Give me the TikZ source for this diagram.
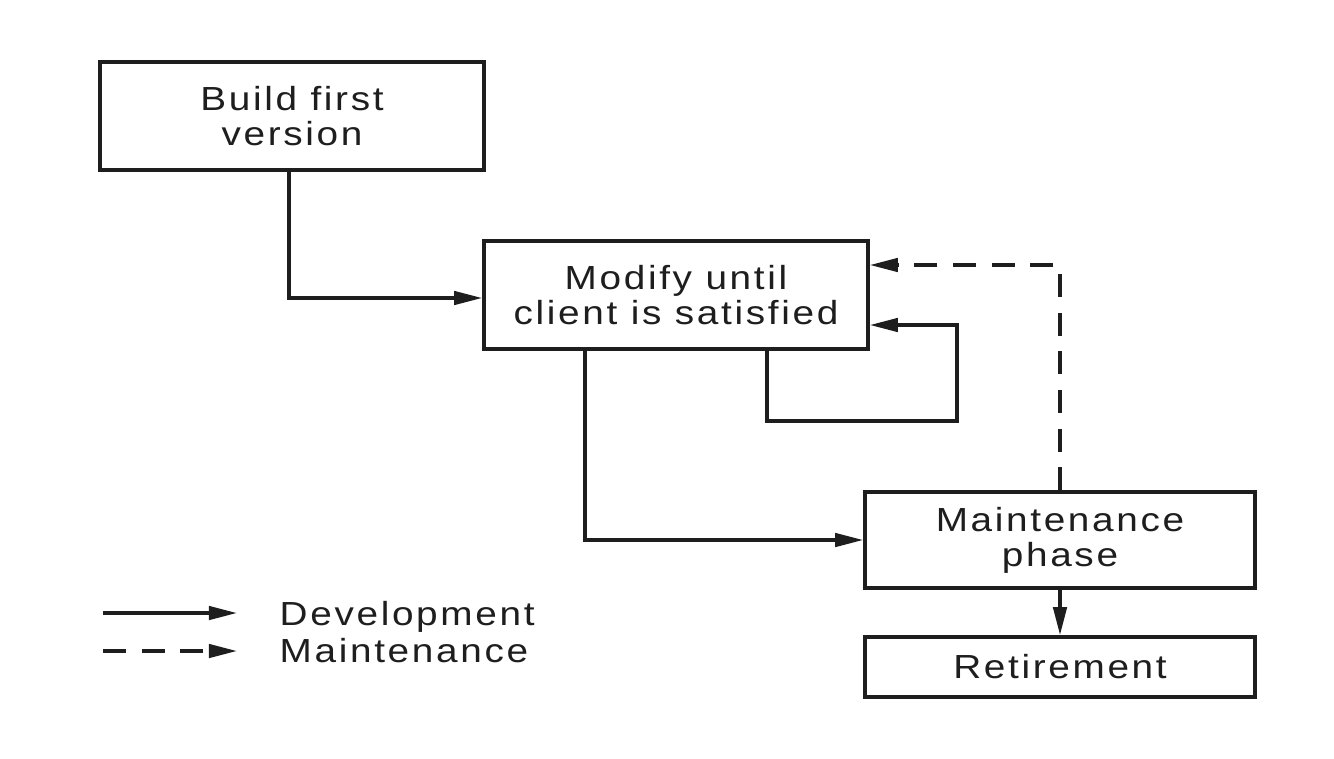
\documentclass[tikz,border=0pt]{standalone}
\usepackage{fontspec}
\setmainfont{Liberation Sans}[LetterSpace=8,FakeStretch=1.16]
\usepackage{tikz}
\usetikzlibrary{arrows.meta,positioning,calc}
\definecolor{ink}{HTML}{1E1E1E}
\tikzset{
  stagebox/.style={
    rectangle, draw=ink, line width=1pt, fill=white,
    minimum width=#1, align=center, inner sep=2pt,
    font=\fontsize{9.5}{10}\selectfont, text=ink
  },
  stagebox/.default=3.84cm,
  devarrow/.style={
    -{Triangle[length=8pt,width=3.8pt]}, line width=1pt, draw=ink
  },
  mntarrow/.style={
    devarrow, dash pattern=on 6.5pt off 4.5pt
  },
  legtext/.style={
    font=\fontsize{9.5}{10}\selectfont, text=ink, inner sep=0pt
  },
}
\begin{document}
\begin{tikzpicture}
\useasboundingbox (0,0) rectangle (13.34,7.58);
\node[stagebox, minimum height=1.08cm] (build) at (2.92,6.42) {Build first\\version};
\node[stagebox, minimum height=1.08cm] (modify) at (6.76,4.63) {Modify until\\client is satisfied};
\node[stagebox=3.90cm, minimum height=0.96cm] (maint) at (10.60,2.18) {Maintenance\\phase};
\node[stagebox=3.90cm, minimum height=0.60cm] (retire) at (10.60,0.91) {Retirement};
\draw[devarrow] ([xshift=-0.03cm]build.south) |- ([yshift=-0.03cm]modify.west);
\draw[devarrow] ([xshift=0.91cm]modify.south) |- ++(1.9,-0.70) |- ([yshift=-0.30cm]modify.east);
\draw[mntarrow] (maint.north) |- ([yshift=0.30cm]modify.east);
\draw[devarrow] ([xshift=-0.91cm]modify.south) |- (maint.west);
\draw[devarrow] (maint.south) -- (retire.north);
% legend
\coordinate (devA) at (1.03,1.45);
\coordinate (devB) at (2.37,1.45);
\coordinate (mntA) at (1.03,1.07);
\coordinate (mntB) at (2.37,1.07);
\draw[devarrow] (devA) -- (devB);
\draw[mntarrow] (mntA) -- (mntB);
\node[legtext, anchor=base west] (devlbl) at (2.79,1.33) {Development};
\node[legtext, anchor=base west] (mntlbl) at (2.79,0.96) {Maintenance};
\end{tikzpicture}
\end{document}
